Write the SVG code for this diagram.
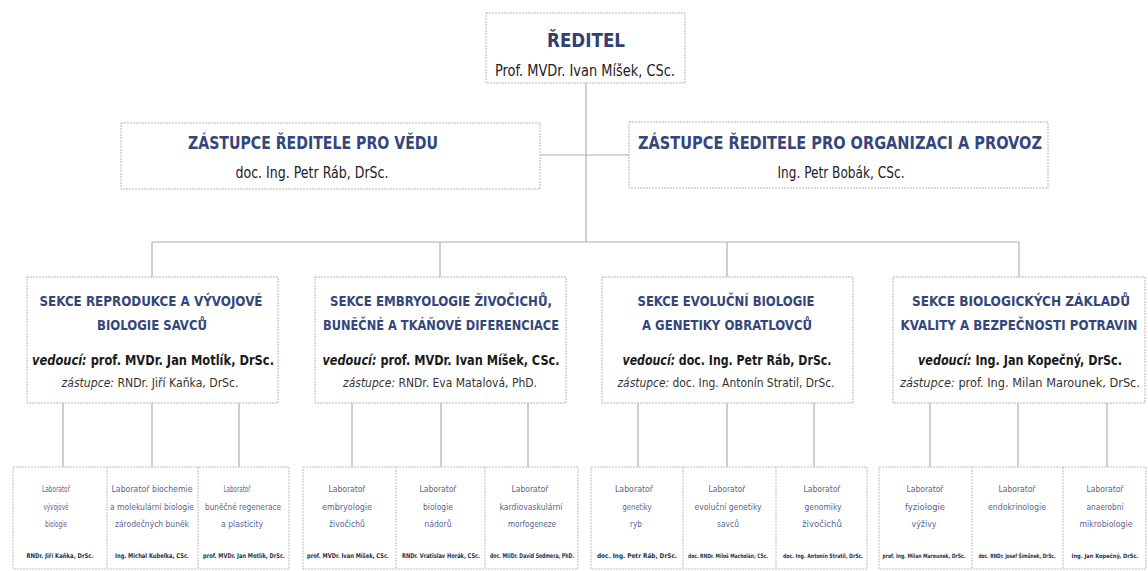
<svg xmlns="http://www.w3.org/2000/svg" width="1148" height="571" viewBox="0 0 1148 571">
<style>
.box{fill:#ffffff;stroke:#b4b4b4;stroke-width:1;stroke-dasharray:2 1}
.lab{fill:#ffffff;stroke:#bdbdbd;stroke-width:1;stroke-dasharray:2 1}
.con{stroke:#b0b0b0;stroke-width:1.2;fill:none}
text{font-family:"DejaVu Sans Condensed","Liberation Sans Narrow","Liberation Sans",sans-serif;text-anchor:middle}
.t1{font-size:20px;font-weight:bold;fill:#2f4170}
.t2{font-size:17px;font-weight:bold;fill:#34467a}
.ts{font-size:14.5px;font-weight:bold;fill:#34467a}
.nm{font-size:15px;fill:#222}
.vd{font-size:13.5px;font-weight:bold;fill:#1a1a1a}
.zs{font-size:12px;fill:#333}
.it{font-style:italic}
.lt{font-size:9px;fill:#5a6590}
.ln{font-size:6.5px;font-weight:bold;fill:#2a2f45}
.ls{font-size:6px}
</style>
<rect width="1148" height="571" fill="#ffffff"/>
<g id="connectors">
<path class="con" d="M586 83V242M540 155H629M152 242H1019M152 242V277M440 242V277M727 242V277M1019 242V277"/>
<path class="con" d="M63 403V467M152 403V467M239 403V467M352 403V467M441 403V467M528 403V467M638 403V467M727 403V467M814 403V467M930 403V467M1018 403V467M1107 403V467"/>
</g>
<g id="reditel">
<rect class="box" x="486" y="13" width="199" height="70"/>
<text class="t1" x="586" y="47" textLength="78" lengthAdjust="spacingAndGlyphs">ŘEDITEL</text>
<text class="nm" x="585" y="76" textLength="180" lengthAdjust="spacingAndGlyphs">Prof. MVDr. Ivan Míšek, CSc.</text>
</g>
<g id="zastupce-veda">
<rect class="box" x="121" y="123" width="419" height="66"/>
<text class="t2" x="313" y="149" textLength="250" lengthAdjust="spacingAndGlyphs">ZÁSTUPCE ŘEDITELE PRO VĚDU</text>
<text class="nm" x="312" y="178" textLength="153" lengthAdjust="spacingAndGlyphs">doc. Ing. Petr Ráb, DrSc.</text>
</g>
<g id="zastupce-provoz">
<rect class="box" x="629" y="122" width="419" height="66"/>
<text class="t2" x="840" y="149" textLength="404" lengthAdjust="spacingAndGlyphs">ZÁSTUPCE ŘEDITELE PRO ORGANIZACI A PROVOZ</text>
<text class="nm" x="841" y="178" textLength="127" lengthAdjust="spacingAndGlyphs">Ing. Petr Bobák, CSc.</text>
</g>
<g id="sekce1">
<rect class="box" x="27" y="277" width="251" height="126"/>
<text class="ts" x="151" y="306" textLength="223" lengthAdjust="spacingAndGlyphs">SEKCE REPRODUKCE A VÝVOJOVÉ</text>
<text class="ts" x="152" y="330" textLength="110" lengthAdjust="spacingAndGlyphs">BIOLOGIE SAVCŮ</text>
<text class="vd" x="153" y="365" textLength="242" lengthAdjust="spacingAndGlyphs"><tspan class="it">vedoucí:</tspan> prof. MVDr. Jan Motlík, DrSc.</text>
<text class="zs" x="150" y="387" textLength="177" lengthAdjust="spacingAndGlyphs"><tspan class="it">zástupce:</tspan> RNDr. Jiří Kaňka, DrSc.</text>
</g>
<g id="sekce2">
<rect class="box" x="315" y="277" width="251" height="126"/>
<text class="ts" x="441" y="306" textLength="222" lengthAdjust="spacingAndGlyphs">SEKCE EMBRYOLOGIE ŽIVOČICHŮ,</text>
<text class="ts" x="441" y="330" textLength="236" lengthAdjust="spacingAndGlyphs">BUNĚČNÉ A TKÁŇOVÉ DIFERENCIACE</text>
<text class="vd" x="441" y="365" textLength="237" lengthAdjust="spacingAndGlyphs"><tspan class="it">vedoucí:</tspan> prof. MVDr. Ivan Míšek, CSc.</text>
<text class="zs" x="440" y="387" textLength="194" lengthAdjust="spacingAndGlyphs"><tspan class="it">zástupce:</tspan> RNDr. Eva Matalová, PhD.</text>
</g>
<g id="sekce3">
<rect class="box" x="602" y="277" width="251" height="126"/>
<text class="ts" x="726" y="306" textLength="177" lengthAdjust="spacingAndGlyphs">SEKCE EVOLUČNÍ BIOLOGIE</text>
<text class="ts" x="727" y="330" textLength="170" lengthAdjust="spacingAndGlyphs">A GENETIKY OBRATLOVCŮ</text>
<text class="vd" x="727" y="365" textLength="209" lengthAdjust="spacingAndGlyphs"><tspan class="it">vedoucí:</tspan> doc. Ing. Petr Ráb, DrSc.</text>
<text class="zs" x="726" y="387" textLength="217" lengthAdjust="spacingAndGlyphs"><tspan class="it">zástupce:</tspan> doc. Ing. Antonín Stratil, DrSc.</text>
</g>
<g id="sekce4">
<rect class="box" x="893" y="277" width="252" height="126"/>
<text class="ts" x="1021" y="306" textLength="218" lengthAdjust="spacingAndGlyphs">SEKCE BIOLOGICKÝCH ZÁKLADŮ</text>
<text class="ts" x="1019" y="330" textLength="237" lengthAdjust="spacingAndGlyphs" style="font-size:13.5px">KVALITY A BEZPEČNOSTI POTRAVIN</text>
<text class="vd" x="1020" y="365" textLength="204" lengthAdjust="spacingAndGlyphs"><tspan class="it">vedoucí:</tspan> Ing. Jan Kopečný, DrSc.</text>
<text class="zs" x="1020" y="387" textLength="240" lengthAdjust="spacingAndGlyphs" style="font-size:11.5px"><tspan class="it">zástupce:</tspan> prof. Ing. Milan Marounek, DrSc.</text>
</g>
<g id="lab-sekce1">
<rect class="lab" x="13" y="467" width="276" height="102"/>
<path class="lab" d="M107 467V569M198 467V569"/>
<text class="lt" x="56" y="492" textLength="28" lengthAdjust="spacingAndGlyphs">Laboratoř</text>
<text class="lt" x="56" y="510" textLength="25" lengthAdjust="spacingAndGlyphs">vývojové</text>
<text class="lt" x="56" y="527" textLength="22" lengthAdjust="spacingAndGlyphs">biologie</text>
<text class="ln" x="60" y="558" textLength="67" lengthAdjust="spacingAndGlyphs">RNDr. Jiří Kaňka, DrSc.</text>
<text class="lt" x="152" y="492" textLength="81" lengthAdjust="spacingAndGlyphs">Laboratoř biochemie</text>
<text class="lt" x="152" y="510" textLength="84" lengthAdjust="spacingAndGlyphs">a molekulární biologie</text>
<text class="lt" x="152" y="527" textLength="74" lengthAdjust="spacingAndGlyphs">zárodečných buněk</text>
<text class="ln" x="152" y="558" textLength="74" lengthAdjust="spacingAndGlyphs">Ing. Michal Kubelka, CSc.</text>
<text class="lt" x="237" y="492" textLength="27" lengthAdjust="spacingAndGlyphs">Laboratoř</text>
<text class="lt" x="243" y="510" textLength="76" lengthAdjust="spacingAndGlyphs">buněčné regenerace</text>
<text class="lt" x="242" y="527" textLength="42" lengthAdjust="spacingAndGlyphs">a plasticity</text>
<text class="ln" x="244" y="558" textLength="82" lengthAdjust="spacingAndGlyphs">prof. MVDr. Jan Motlík, DrSc.</text>
</g>
<g id="lab-sekce2">
<rect class="lab" x="303" y="467" width="275" height="102"/>
<path class="lab" d="M396 467V569M485 467V569"/>
<text class="lt" x="347" y="492" textLength="37" lengthAdjust="spacingAndGlyphs">Laboratoř</text>
<text class="lt" x="347" y="510" textLength="50" lengthAdjust="spacingAndGlyphs">embryologie</text>
<text class="lt" x="347" y="527" textLength="36" lengthAdjust="spacingAndGlyphs">živočichů</text>
<text class="ln" x="348" y="558" textLength="82" lengthAdjust="spacingAndGlyphs">prof. MVDr. Ivan Míšek, CSc.</text>
<text class="lt" x="438" y="492" textLength="37" lengthAdjust="spacingAndGlyphs">Laboratoř</text>
<text class="lt" x="438" y="510" textLength="30" lengthAdjust="spacingAndGlyphs">biologie</text>
<text class="lt" x="438" y="527" textLength="27" lengthAdjust="spacingAndGlyphs">nádorů</text>
<text class="ln" x="441" y="558" textLength="78" lengthAdjust="spacingAndGlyphs">RNDr. Vratislav Horák, CSc.</text>
<text class="lt" x="530" y="492" textLength="37" lengthAdjust="spacingAndGlyphs">Laboratoř</text>
<text class="lt" x="531" y="510" textLength="63" lengthAdjust="spacingAndGlyphs">kardiovaskulární</text>
<text class="lt" x="532" y="527" textLength="48" lengthAdjust="spacingAndGlyphs">morfogeneze</text>
<text class="ln" x="532" y="558" textLength="84" lengthAdjust="spacingAndGlyphs">doc. MUDr. David Sedmera, PhD.</text>
</g>
<g id="lab-sekce3">
<rect class="lab" x="591" y="467" width="276" height="102"/>
<path class="lab" d="M683 467V569M776 467V569"/>
<text class="lt" x="634" y="492" textLength="38" lengthAdjust="spacingAndGlyphs">Laboratoř</text>
<text class="lt" x="637" y="510" textLength="29" lengthAdjust="spacingAndGlyphs">genetiky</text>
<text class="lt" x="636" y="527" textLength="12" lengthAdjust="spacingAndGlyphs">ryb</text>
<text class="ln" x="637" y="558" textLength="80" lengthAdjust="spacingAndGlyphs">doc. Ing. Petr Ráb, DrSc.</text>
<text class="lt" x="727" y="492" textLength="37" lengthAdjust="spacingAndGlyphs">Laboratoř</text>
<text class="lt" x="728" y="510" textLength="67" lengthAdjust="spacingAndGlyphs">evoluční genetiky</text>
<text class="lt" x="728" y="527" textLength="22" lengthAdjust="spacingAndGlyphs">savců</text>
<text class="ln ls" x="728" y="558" textLength="80" lengthAdjust="spacingAndGlyphs">doc. RNDr. Miloš Macholán, CSc.</text>
<text class="lt" x="822" y="492" textLength="37" lengthAdjust="spacingAndGlyphs">Laboratoř</text>
<text class="lt" x="823" y="510" textLength="37" lengthAdjust="spacingAndGlyphs">genomiky</text>
<text class="lt" x="822" y="527" textLength="40" lengthAdjust="spacingAndGlyphs">živočichů</text>
<text class="ln ls" x="823" y="558" textLength="80" lengthAdjust="spacingAndGlyphs">doc. Ing. Antonín Stratil, DrSc.</text>
</g>
<g id="lab-sekce4">
<rect class="lab" x="879" y="467" width="267" height="102"/>
<path class="lab" d="M972 467V569M1063 467V569"/>
<text class="lt" x="925" y="492" textLength="37" lengthAdjust="spacingAndGlyphs">Laboratoř</text>
<text class="lt" x="925" y="510" textLength="40" lengthAdjust="spacingAndGlyphs">fyziologie</text>
<text class="lt" x="924" y="527" textLength="25" lengthAdjust="spacingAndGlyphs">výživy</text>
<text class="ln ls" x="924" y="558" textLength="83" lengthAdjust="spacingAndGlyphs">prof. Ing. Milan Marounek, DrSc.</text>
<text class="lt" x="1017" y="492" textLength="37" lengthAdjust="spacingAndGlyphs">Laboratoř</text>
<text class="lt" x="1017" y="510" textLength="58" lengthAdjust="spacingAndGlyphs">endokrinologie</text>
<text class="ln ls" x="1017" y="558" textLength="77" lengthAdjust="spacingAndGlyphs">doc. RNDr. Josef Šimůnek, DrSc.</text>
<text class="lt" x="1105" y="492" textLength="37" lengthAdjust="spacingAndGlyphs">Laboratoř</text>
<text class="lt" x="1105" y="510" textLength="37" lengthAdjust="spacingAndGlyphs">anaerobní</text>
<text class="lt" x="1106" y="527" textLength="53" lengthAdjust="spacingAndGlyphs">mikrobiologie</text>
<text class="ln ls" x="1105" y="558" textLength="67" lengthAdjust="spacingAndGlyphs">Ing. Jan Kopečný, DrSc.</text>
</g>
</svg>
